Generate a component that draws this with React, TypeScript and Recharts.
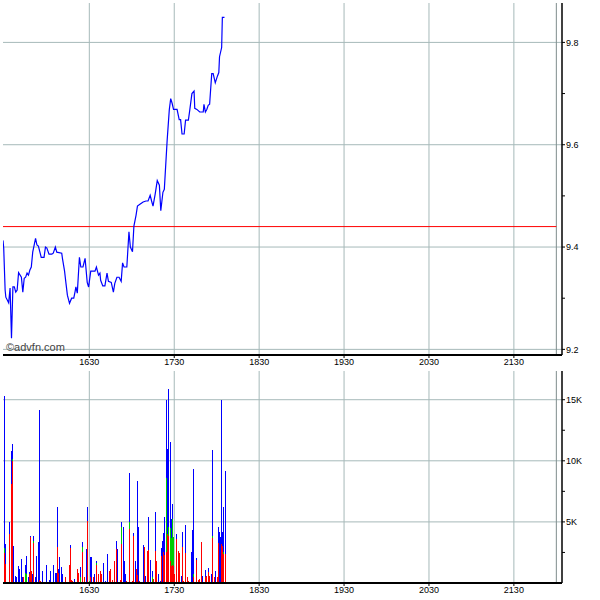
import React from 'react';
import { LineChart, Line, BarChart, Bar, XAxis, YAxis, CartesianGrid, ReferenceLine } from 'recharts';

// time in minutes since midnight (e.g. 990 = 16:30)
const priceTimes = [929, 929.5, 930.5, 931, 933, 934, 935, 936, 937, 938, 939, 940, 942, 943, 944, 945, 946, 947, 948, 949, 950, 952, 953, 954, 956, 958, 959, 960, 961.5, 963.5, 964.5, 966, 967, 970.5, 971, 972.5, 973.5, 974.5, 976, 977.5, 979, 980, 980.5, 981.5, 983, 984, 985.5, 987, 988.5, 989.5, 991, 994, 995, 996.5, 997.5, 998, 999.5, 1001, 1002.5, 1003.5, 1005.5, 1007, 1008, 1009.5, 1011, 1012.5, 1013.5, 1014.5, 1016.5, 1018, 1019, 1020.5, 1021.5, 1023, 1024, 1026, 1028, 1030, 1031.5, 1033, 1034, 1035, 1036.5, 1038, 1039.5, 1040.5, 1042, 1043, 1045, 1046.5, 1047.5, 1048.5, 1049.5, 1052, 1053.5, 1054.5, 1055.5, 1057, 1058, 1060, 1061, 1062.5, 1064, 1064.5, 1066, 1068, 1070.5, 1071, 1072, 1073, 1074, 1075, 1076.5, 1077.5, 1079, 1080.5, 1081.5, 1082, 1083.5, 1084, 1085.5];
const prices = [9.413, 9.398, 9.316, 9.302, 9.291, 9.320, 9.222, 9.322, 9.322, 9.312, 9.316, 9.350, 9.341, 9.312, 9.339, 9.341, 9.349, 9.345, 9.355, 9.361, 9.390, 9.417, 9.404, 9.402, 9.380, 9.380, 9.400, 9.398, 9.386, 9.386, 9.388, 9.400, 9.390, 9.388, 9.378, 9.353, 9.329, 9.306, 9.290, 9.300, 9.300, 9.314, 9.322, 9.310, 9.380, 9.361, 9.361, 9.378, 9.331, 9.322, 9.353, 9.353, 9.361, 9.345, 9.349, 9.335, 9.324, 9.324, 9.349, 9.333, 9.331, 9.312, 9.329, 9.341, 9.341, 9.333, 9.369, 9.361, 9.361, 9.430, 9.400, 9.391, 9.441, 9.462, 9.480, 9.484, 9.488, 9.490, 9.490, 9.501, 9.490, 9.480, 9.503, 9.530, 9.521, 9.471, 9.507, 9.513, 9.609, 9.668, 9.690, 9.681, 9.669, 9.669, 9.649, 9.649, 9.621, 9.621, 9.648, 9.648, 9.668, 9.700, 9.705, 9.671, 9.669, 9.664, 9.664, 9.679, 9.664, 9.669, 9.677, 9.679, 9.739, 9.739, 9.721, 9.734, 9.741, 9.772, 9.790, 9.849, 9.849];
const referencePrice = 9.44;

const volTimes = [929.8, 930.6, 933.5, 935.2, 935.7, 936.4, 937.8, 938.5, 939.9, 940.6, 942.0, 942.7, 943.4, 944.8, 945.8, 946.9, 947.6, 948.4, 949.1, 949.8, 950.5, 952.1, 952.8, 954.0, 954.9, 955.6, 956.8, 959.6, 961.8, 962.5, 964.6, 966.0, 966.7, 967.4, 968.4, 969.3, 970.7, 971.4, 973.3, 975.9, 976.4, 977.1, 978.2, 979.9, 981.5, 982.7, 983.7, 985.1, 986.7, 987.9, 988.6, 990.0, 990.7, 991.6, 993.1, 994.0, 995.0, 996.8, 997.8, 998.7, 999.9, 1001.8, 1002.7, 1004.1, 1004.8, 1006.5, 1007.6, 1009.1, 1009.8, 1011.9, 1012.6, 1014.0, 1014.7, 1015.4, 1016.4, 1018.7, 1020.6, 1021.1, 1022.5, 1023.2, 1024.1, 1024.8, 1025.8, 1028.1, 1028.8, 1029.5, 1030.9, 1031.9, 1033.3, 1034.5, 1035.2, 1036.6, 1037.5, 1038.9, 1040.4, 1041.1, 1041.8, 1042.5, 1043.2, 1044.6, 1045.3, 1046.2, 1047.2, 1047.9, 1048.6, 1049.3, 1050.5, 1051.9, 1052.8, 1054.0, 1054.9, 1055.6, 1056.8, 1057.8, 1059.2, 1060.1, 1062.0, 1063.0, 1063.9, 1065.5, 1067.0, 1068.1, 1069.1, 1069.8, 1071.9, 1072.8, 1074.0, 1075.2, 1076.1, 1076.8, 1078.2, 1078.9, 1080.4, 1081.1, 1081.8, 1082.5, 1083.2, 1083.9, 1084.6, 1086.0];
const sellVol = [2430, 1550, 4020, 8120, 9970, 0, 0, 0, 0, 0, 0, 0, 520, 0, 0, 0, 740, 3740, 1010, 0, 3250, 0, 0, 0, 250, 190, 0, 0, 0, 0, 0, 0, 0, 2980, 790, 0, 0, 0, 460, 1500, 2850, 250, 130, 0, 1150, 790, 0, 2510, 460, 0, 5110, 0, 460, 0, 460, 0, 1500, 740, 950, 740, 0, 0, 0, 1010, 1150, 250, 1770, 2790, 0, 250, 3200, 0, 0, 0, 190, 4430, 190, 3880, 0, 1150, 680, 0, 190, 0, 2980, 0, 2650, 2710, 0, 0, 330, 2650, 1830, 0, 0, 2240, 0, 2510, 2320, 2500, 4020, 3880, 1800, 1400, 1500, 1420, 740, 3610, 2590, 2430, 0, 2980, 190, 2430, 520, 190, 0, 0, 460, 1890, 250, 330, 3390, 0, 520, 600, 880, 600, 0, 3690, 520, 0, 460, 3250, 0, 0, 3200, 3060, 2380, 2380];
const neutralVol = [440, 0, 0, 0, 140, 0, 0, 0, 0, 0, 0, 0, 0, 790, 740, 0, 0, 0, 0, 0, 220, 0, 0, 0, 0, 0, 0, 0, 0, 0, 0, 0, 0, 0, 0, 0, 0, 0, 0, 0, 0, 0, 0, 0, 0, 0, 520, 410, 0, 0, 0, 190, 0, 0, 0, 0, 110, 0, 0, 0, 0, 0, 0, 0, 0, 0, 0, 0, 0, 0, 1360, 0, 0, 0, 0, 540, 0, 0, 0, 0, 0, 0, 0, 0, 0, 0, 0, 0, 0, 520, 0, 0, 0, 0, 0, 0, 0, 0, 0, 6100, 0, 700, 2700, 2300, 3750, 2320, 0, 0, 0, 0, 0, 0, 0, 0, 0, 0, 0, 0, 300, 0, 0, 0, 0, 0, 0, 0, 0, 0, 0, 190, 0, 0, 0, 0, 0, 0, 0, 0, 130, 0];
const buyVol = [12430, 1650, 950, 2670, 1230, 3060, 600, 520, 1420, 1150, 1970, 520, 0, 710, 1500, 520, 190, 140, 0, 740, 410, 520, 2240, 3390, 13880, 0, 950, 1500, 250, 950, 1500, 840, 790, 3220, 380, 2100, 1280, 740, 0, 0, 290, 0, 0, 330, 0, 0, 760, 410, 0, 2790, 1090, 0, 1640, 2100, 0, 740, 220, 0, 0, 0, 1610, 190, 2380, 0, 0, 0, 0, 680, 2790, 0, 470, 4560, 1770, 740, 0, 4020, 0, 190, 1830, 0, 7630, 4620, 0, 3140, 0, 600, 0, 2670, 1890, 430, 0, 3200, 0, 740, 130, 630, 3470, 1560, 3120, 6400, 6970, 11270, 7030, 1550, 1230, 0, 0, 410, 0, 0, 600, 1170, 0, 2290, 0, 0, 2510, 4350, 8530, 160, 0, 0, 0, 600, 550, 0, 350, 0, 740, 7020, 0, 950, 0, 1310, 4150, 3740, 11800, 1090, 3690, 6750];

const timeDomain = [929, 1324];
const timeTicks = [990, 1050, 1110, 1170, 1230, 1290];
const dayEnd = 1320;
const priceDomain = [9.189, 9.877];
const priceTicks = [9.2, 9.3, 9.4, 9.5, 9.6, 9.7, 9.8];
const priceGrid = [9.2, 9.4, 9.6, 9.8];
const volDomain = [0, 17350];
const volTicks = [2500, 5000, 7500, 10000, 12500, 15000];
const volGrid = [5000, 10000, 15000];

const priceData = priceTimes.map((t, i) => ({ t, p: prices[i] }));
const volData = volTimes.map((t, i) => ({ t, sell: sellVol[i], neutral: neutralVol[i], buy: buyVol[i] }));

const fmtTime = (v: number) => {
  const h = Math.floor(v / 60);
  const m = Math.round(v - h * 60);
  return `${h}${m < 10 ? '0' : ''}${m}`;
};
const fmtPrice = (v: number) => (Math.round(v * 10) % 2 === 0 ? v.toFixed(1) : '');
const fmtVol = (v: number) => (v % 5000 === 0 ? `${v / 1000}K` : '');

const tickStyle = { fontSize: 9, fontFamily: 'Liberation Sans, Arial, sans-serif', fill: '#000' };
const gridColor = '#a6b9b9';

// pixel-aligned 1px bar segment (position and height come from the library's scales)
const PixelBar = (props: any) => {
  const { x, y, width, height, fill } = props;
  if (!height || height <= 0) return null;
  const cx = Math.round(x + width / 2 - 0.5);
  return <rect x={cx} y={y} width={1} height={height} fill={fill} shapeRendering="crispEdges" />;
};

export default function App() {
  return (
    <div style={{ position: 'absolute', left: 0, top: 0, width: 600, height: 600, background: '#fff' }}>
      <div style={{ position: 'absolute', left: 0, top: 0 }}>
        <LineChart width={600} height={370} data={priceData} margin={{ top: 3, right: 0, bottom: 0, left: 3 }}>
          <CartesianGrid stroke={gridColor} horizontalValues={priceGrid} verticalValues={timeTicks} />
          <XAxis dataKey="t" type="number" domain={timeDomain} ticks={timeTicks} tickFormatter={fmtTime}
            allowDataOverflow height={15} tickSize={3} tickMargin={1} interval={0}
            tick={tickStyle} axisLine={{ stroke: '#000', strokeWidth: 2 }} tickLine={{ stroke: '#000' }} />
          <XAxis xAxisId="top" dataKey="t" type="number" domain={timeDomain} orientation="top" height={0}
            tick={false} tickLine={false} allowDataOverflow axisLine={{ stroke: '#000', strokeWidth: 1 }} />
          <YAxis orientation="right" type="number" domain={priceDomain} ticks={priceTicks} tickFormatter={fmtPrice}
            allowDataOverflow width={38} tickSize={3} tickMargin={1} interval={0}
            tick={tickStyle} axisLine={{ stroke: '#000', strokeWidth: 1.5 }} tickLine={{ stroke: '#000' }} />
          <YAxis yAxisId="left" orientation="left" type="number" domain={priceDomain} width={0} tick={false}
            tickLine={false} allowDataOverflow axisLine={{ stroke: '#000', strokeWidth: 2 }} />
          <ReferenceLine x={dayEnd} stroke="#7f8c8c" />
          <ReferenceLine segment={[{ x: timeDomain[0], y: referencePrice }, { x: dayEnd, y: referencePrice }]} stroke="#ff0000" strokeWidth={1} />
          <Line type="linear" dataKey="p" stroke="#0000ff" strokeWidth={1.2} dot={false} isAnimationActive={false} />
        </LineChart>
      </div>
      <div style={{ position: 'absolute', left: 6, top: 342, fontSize: 11, lineHeight: '11px', fontFamily: 'Liberation Sans, Arial, sans-serif', color: '#444', pointerEvents: 'none' }}>
        ©advfn.com
      </div>
      <div style={{ position: 'absolute', left: 0, top: 368 }}>
        <BarChart width={600} height={232} data={volData} margin={{ top: 3, right: 0, bottom: 0, left: 3 }} barGap={0} barCategoryGap={0}>
          <CartesianGrid stroke={gridColor} horizontalValues={volGrid} verticalValues={timeTicks} />
          <XAxis dataKey="t" type="number" domain={timeDomain} ticks={timeTicks} tickFormatter={fmtTime}
            allowDataOverflow height={17} tickSize={3} tickMargin={1} interval={0}
            tick={tickStyle} axisLine={{ stroke: '#000', strokeWidth: 2 }} tickLine={{ stroke: '#000' }} />
          <XAxis xAxisId="top" dataKey="t" type="number" domain={timeDomain} orientation="top" height={0}
            tick={false} tickLine={false} allowDataOverflow axisLine={{ stroke: '#000', strokeWidth: 1 }} />
          <YAxis orientation="right" type="number" domain={volDomain} ticks={volTicks} tickFormatter={fmtVol}
            allowDataOverflow width={38} tickSize={3} tickMargin={1} interval={0}
            tick={tickStyle} axisLine={{ stroke: '#000', strokeWidth: 1.5 }} tickLine={{ stroke: '#000' }} />
          <YAxis yAxisId="left" orientation="left" type="number" domain={volDomain} width={0} tick={false}
            tickLine={false} allowDataOverflow axisLine={{ stroke: '#000', strokeWidth: 2 }} />
          <ReferenceLine x={dayEnd} stroke="#7f8c8c" />
          <Bar dataKey="sell" stackId="v" fill="#ff0000" barSize={1} shape={PixelBar} isAnimationActive={false} />
          <Bar dataKey="neutral" stackId="v" fill="#00cc00" barSize={1} shape={PixelBar} isAnimationActive={false} />
          <Bar dataKey="buy" stackId="v" fill="#0000ff" barSize={1} shape={PixelBar} isAnimationActive={false} />
        </BarChart>
      </div>
    </div>
  );
}
